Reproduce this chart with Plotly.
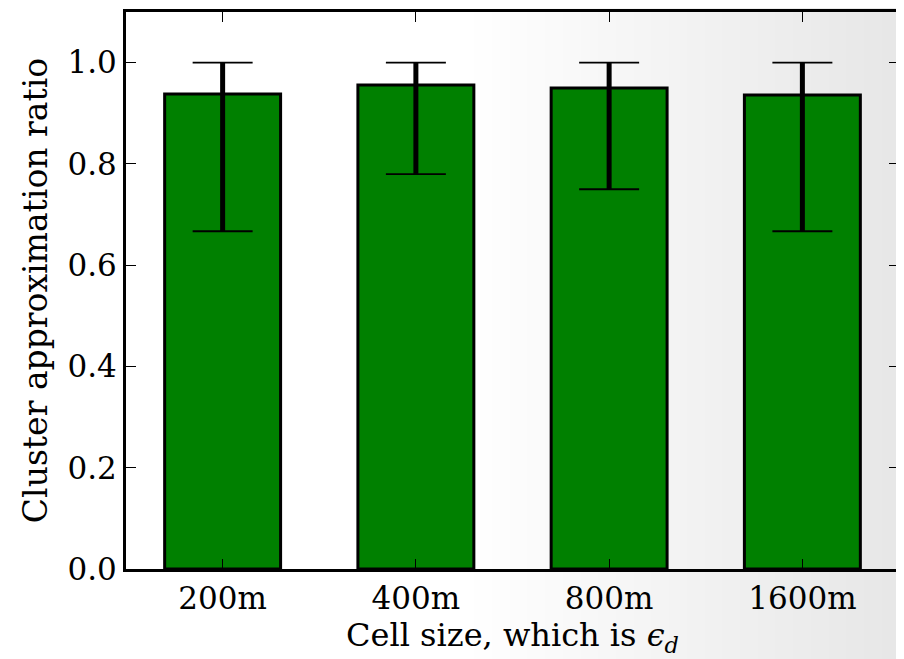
import plotly.graph_objects as go

categories = ["200m", "400m", "800m", "1600m"]
ratio_mean = [0.938, 0.956, 0.950, 0.936]
ratio_max = [1.0, 1.0, 1.0, 1.0]
ratio_min = [0.667, 0.780, 0.750, 0.667]

xpos = list(range(len(categories)))
err_plus = [hi - m for hi, m in zip(ratio_max, ratio_mean)]
err_minus = [m - lo for lo, m in zip(ratio_min, ratio_mean)]

FONT = "DejaVu Serif"

fig = go.Figure()
fig.add_trace(go.Bar(
    x=xpos, y=ratio_mean, width=0.6,
    marker=dict(color="#008000", line=dict(color="black", width=3)),
    error_y=dict(type="data", symmetric=False, array=err_plus, arrayminus=err_minus,
                 color="black", thickness=5, width=0),
    showlegend=False, hoverinfo="skip",
))
fig.add_trace(go.Scatter(
    x=xpos, y=ratio_mean, mode="markers", marker=dict(size=0.1, color="rgba(0,0,0,0)"),
    error_y=dict(type="data", symmetric=False, array=err_plus, arrayminus=err_minus,
                 color="black", thickness=1.8, width=30),
    showlegend=False, hoverinfo="skip",
))

shapes = []
N = 24
for k in range(N):
    x0 = 0.45 + 0.55 * k / N
    shapes.append(dict(type="rect", xref="paper", yref="paper", x0=x0, x1=1.2,
                       y0=-0.2, y1=1.05, line=dict(width=0),
                       fillcolor="rgba(0,0,0,0.003)", layer="below"))

fig.update_layout(
    width=896, height=651,
    margin=dict(l=118, r=5, t=1, b=90),
    paper_bgcolor="white", plot_bgcolor="rgba(0,0,0,0)",
    font=dict(family=FONT, color="black", size=31),
    shapes=shapes,
    xaxis=dict(
        range=[-0.5, 3.5], tickmode="array", tickvals=xpos, ticktext=categories,
        showline=True, linecolor="black", linewidth=3, mirror="ticks",
        ticks="inside", ticklen=10, tickwidth=1.2, tickcolor="black",
        showgrid=False, zeroline=False,
        tickfont=dict(size=31, family=FONT),
        title=dict(text="Cell size, which is <i>ϵ</i><sub><i>d</i></sub>",
                   font=dict(size=32, family=FONT), standoff=9),
    ),
    yaxis=dict(
        range=[0, 1.1], tickmode="array", tickvals=[0, 0.2, 0.4, 0.6, 0.8, 1.0],
        tickformat=".1f",
        showline=True, linecolor="black", linewidth=3, mirror="ticks",
        ticks="inside", ticklen=10, tickwidth=1.2, tickcolor="black",
        showgrid=False, zeroline=False,
        tickfont=dict(size=31, family=FONT),
        title=dict(text="Cluster approximation ratio",
                   font=dict(size=33, family=FONT), standoff=10),
    ),
)

fig.write_html("out.html")
